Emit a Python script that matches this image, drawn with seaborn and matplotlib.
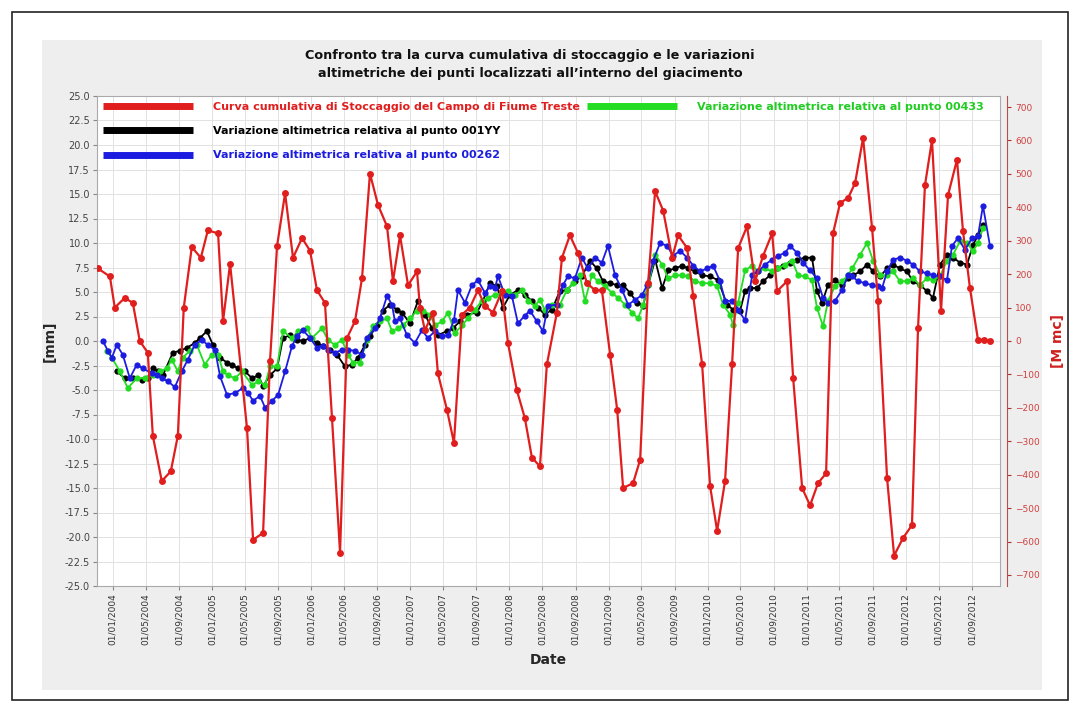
import numpy as np
import pandas as pd
import matplotlib
matplotlib.use("Agg")
import matplotlib.pyplot as plt
import matplotlib.dates as mdates
import matplotlib.ticker as mticker
from matplotlib.lines import Line2D
from matplotlib.patches import Rectangle
import seaborn as sns

# ---------------- data (dates as decimal years) ----------------
red_years = [2003.849, 2003.970, 2004.020, 2004.121, 2004.202, 2004.272, 2004.353, 2004.404, 2004.494, 2004.585,
             2004.656, 2004.716, 2004.797, 2004.888, 2004.959, 2005.060, 2005.110, 2005.181, 2005.352, 2005.413,
             2005.514, 2005.584, 2005.655, 2005.736, 2005.816, 2005.907, 2005.988, 2006.058, 2006.139, 2006.210,
             2006.291, 2006.361, 2006.442, 2006.513, 2006.593, 2006.674, 2006.765, 2006.825, 2006.896, 2006.977,
             2007.068, 2007.098, 2007.148, 2007.229, 2007.279, 2007.370, 2007.441, 2007.522, 2007.602, 2007.683,
             2007.754, 2007.834, 2007.925, 2007.986, 2008.076, 2008.157, 2008.228, 2008.309, 2008.379, 2008.480,
             2008.531, 2008.611, 2008.692, 2008.783, 2008.864, 2008.934, 2009.015, 2009.086, 2009.146, 2009.247,
             2009.318, 2009.398, 2009.469, 2009.550, 2009.641, 2009.701, 2009.792, 2009.853, 2009.943, 2010.024,
             2010.095, 2010.175, 2010.246, 2010.307, 2010.397, 2010.478, 2010.559, 2010.650, 2010.700, 2010.801,
             2010.862, 2010.953, 2011.033, 2011.114, 2011.195, 2011.265, 2011.336, 2011.417, 2011.487, 2011.568,
             2011.659, 2011.719, 2011.810, 2011.881, 2011.972, 2012.062, 2012.123, 2012.193, 2012.264, 2012.355,
             2012.426, 2012.516, 2012.577, 2012.647, 2012.728, 2012.789, 2012.849]
red_mmc = [217, 193, 100, 129, 114, 0, -35, -284, -419, -390,
           -284, 100, 281, 249, 331, 322, 59, 231, -261, -595,
           -574, -59, 284, 442, 249, 308, 270, 152, 114, -231,
           -633, 9, 59, 188, 501, 407, 343, 179, 316, 167,
           208, 100, 32, 85, -97, -205, -305, 79, 100, 152,
           105, 85, 149, -6, -147, -231, -349, -375, -70, 85,
           249, 316, 264, 173, 152, 152, -41, -205, -440, -425,
           -355, 173, 448, 390, 249, 316, 278, 135, -70, -434,
           -568, -419, -70, 278, 343, 179, 255, 322, 149, 179,
           -111, -440, -492, -425, -396, 322, 413, 428, 472, 607,
           337, 120, -410, -642, -589, -551, 38, 466, 601, 91,
           437, 542, 328, 158, 3, 3, 0]

blue_years = [2003.899, 2003.950, 2003.990, 2004.040, 2004.101, 2004.172, 2004.242, 2004.303, 2004.394, 2004.444,
              2004.494, 2004.555, 2004.626, 2004.696, 2004.757, 2004.827, 2004.898, 2004.959, 2005.029, 2005.080,
              2005.150, 2005.231, 2005.312, 2005.362, 2005.413, 2005.483, 2005.534, 2005.604, 2005.665, 2005.736,
              2005.806, 2005.857, 2005.917, 2005.988, 2006.058, 2006.119, 2006.169, 2006.240, 2006.311, 2006.371,
              2006.442, 2006.513, 2006.563, 2006.644, 2006.694, 2006.765, 2006.815, 2006.845, 2006.896, 2006.966,
              2007.047, 2007.118, 2007.178, 2007.249, 2007.320, 2007.380, 2007.441, 2007.481, 2007.552, 2007.622,
              2007.683, 2007.754, 2007.804, 2007.854, 2007.885, 2007.955, 2008.026, 2008.087, 2008.157, 2008.208,
              2008.278, 2008.339, 2008.389, 2008.480, 2008.541, 2008.591, 2008.662, 2008.732, 2008.793, 2008.864,
              2008.934, 2008.995, 2009.065, 2009.136, 2009.197, 2009.267, 2009.338, 2009.388, 2009.449, 2009.519,
              2009.590, 2009.650, 2009.721, 2009.792, 2009.853, 2009.923, 2009.994, 2010.054, 2010.125, 2010.175,
              2010.246, 2010.307, 2010.377, 2010.448, 2010.508, 2010.579, 2010.650, 2010.710, 2010.781, 2010.831,
              2010.902, 2010.962, 2011.033, 2011.103, 2011.164, 2011.214, 2011.285, 2011.356, 2011.417, 2011.457,
              2011.517, 2011.588, 2011.659, 2011.719, 2011.760, 2011.810, 2011.870, 2011.941, 2012.011, 2012.072,
              2012.143, 2012.213, 2012.274, 2012.345, 2012.415, 2012.466, 2012.526, 2012.597, 2012.668, 2012.728,
              2012.778, 2012.849]
blue_mm = [0.0, -1.0, -1.7, -0.4, -1.4, -3.8, -2.4, -2.8, -3.3, -3.5,
           -3.8, -4.1, -4.7, -3.1, -1.9, -0.4, 0.1, -0.4, -0.9, -3.6,
           -5.5, -5.3, -4.8, -5.3, -6.1, -5.6, -6.8, -6.1, -5.5, -3.1,
           -0.5, 0.5, 1.1, 0.3, -0.7, -0.5, -0.9, -1.2, -0.9, -0.9,
           -1.0, -1.4, 0.3, 1.3, 2.3, 4.6, 3.7, 2.0, 2.3, 0.6,
           -0.2, 1.1, 0.3, 1.0, 0.5, 0.6, 2.1, 5.2, 3.9, 5.7,
           6.2, 4.9, 5.6, 5.4, 6.6, 4.7, 4.6, 1.8, 2.6, 3.1,
           2.0, 1.0, 3.6, 3.7, 5.7, 6.6, 6.4, 8.5, 7.4, 8.5,
           8.0, 9.7, 6.7, 5.2, 3.7, 4.2, 4.7, 5.7, 8.2, 10.0,
           9.7, 8.7, 9.2, 8.5, 7.7, 7.1, 7.4, 7.7, 6.1, 4.1,
           4.1, 3.2, 2.1, 6.7, 7.1, 7.8, 8.3, 8.7, 9.0, 9.7,
           9.0, 8.0, 7.2, 6.4, 4.4, 3.9, 4.1, 5.2, 6.7, 6.6,
           6.1, 5.9, 5.7, 5.6, 5.4, 7.1, 8.3, 8.5, 8.2, 7.8,
           7.1, 6.9, 6.7, 6.6, 6.2, 9.7, 10.5, 9.3, 10.5, 10.7,
           13.8, 9.7]

green_years = [2003.939, 2003.990, 2004.071, 2004.151, 2004.242, 2004.323, 2004.404, 2004.474, 2004.545, 2004.595,
               2004.656, 2004.706, 2004.777, 2004.848, 2004.928, 2004.999, 2005.060, 2005.110, 2005.160, 2005.231,
               2005.302, 2005.403, 2005.463, 2005.534, 2005.584, 2005.655, 2005.715, 2005.806, 2005.867, 2005.958,
               2006.008, 2006.109, 2006.169, 2006.240, 2006.311, 2006.371, 2006.422, 2006.492, 2006.563, 2006.623,
               2006.694, 2006.765, 2006.815, 2006.876, 2006.926, 2006.997, 2007.068, 2007.128, 2007.199, 2007.249,
               2007.320, 2007.380, 2007.451, 2007.522, 2007.582, 2007.653, 2007.723, 2007.784, 2007.854, 2007.925,
               2007.986, 2008.056, 2008.127, 2008.188, 2008.258, 2008.309, 2008.359, 2008.430, 2008.510, 2008.581,
               2008.642, 2008.712, 2008.763, 2008.833, 2008.894, 2008.964, 2009.035, 2009.096, 2009.166, 2009.237,
               2009.297, 2009.348, 2009.398, 2009.469, 2009.540, 2009.600, 2009.671, 2009.742, 2009.802, 2009.873,
               2009.943, 2010.024, 2010.095, 2010.155, 2010.226, 2010.256, 2010.307, 2010.377, 2010.448, 2010.508,
               2010.579, 2010.650, 2010.710, 2010.781, 2010.851, 2010.912, 2010.982, 2011.053, 2011.103, 2011.164,
               2011.214, 2011.285, 2011.356, 2011.417, 2011.457, 2011.538, 2011.608, 2011.669, 2011.740, 2011.810,
               2011.870, 2011.941, 2012.011, 2012.072, 2012.143, 2012.213, 2012.274, 2012.345, 2012.415, 2012.476,
               2012.547, 2012.617, 2012.678, 2012.728, 2012.778]
green_mm = [-1.0, -1.7, -3.1, -4.8, -3.8, -3.8, -3.5, -3.1, -2.8, -1.9,
            -3.1, -1.7, -1.0, -0.4, -2.4, -1.4, -1.4, -3.1, -3.5, -3.8,
            -3.1, -4.5, -4.1, -4.5, -2.6, -2.6, 1.0, 0.3, 1.0, 1.3,
            0.3, 1.3, 0.1, -0.4, 0.1, -1.4, -2.2, -2.2, 0.1, 1.5,
            2.0, 2.3, 1.0, 1.3, 1.6, 2.3, 3.1, 3.1, 2.7, 1.6,
            2.0, 2.9, 0.8, 1.6, 2.3, 3.2, 4.1, 4.4, 4.7, 4.9,
            5.1, 4.7, 5.2, 4.1, 3.6, 4.2, 3.2, 3.7, 3.7, 5.2,
            5.9, 6.7, 4.1, 6.7, 6.1, 5.6, 4.9, 4.4, 3.7, 2.9,
            2.3, 3.7, 5.7, 8.8, 7.8, 6.4, 6.7, 6.7, 6.6, 6.1,
            5.9, 5.9, 5.6, 3.7, 2.7, 1.6, 3.9, 7.2, 7.7, 7.1,
            7.4, 7.1, 7.4, 7.8, 8.2, 6.7, 6.6, 6.2, 3.4, 1.5,
            4.1, 5.6, 6.1, 6.7, 7.4, 8.8, 10.0, 8.2, 6.7, 6.7,
            7.1, 6.1, 6.1, 6.4, 5.7, 6.4, 6.2, 6.6, 8.2, 8.8,
            10.2, 10.0, 9.2, 10.0, 11.5]

black_years = [2004.040, 2004.121, 2004.202, 2004.293, 2004.353, 2004.404, 2004.454, 2004.505, 2004.605, 2004.676,
               2004.747, 2004.827, 2004.878, 2004.949, 2005.009, 2005.080, 2005.150, 2005.201, 2005.261, 2005.332,
               2005.403, 2005.463, 2005.514, 2005.584, 2005.655, 2005.715, 2005.786, 2005.857, 2005.917, 2005.988,
               2006.058, 2006.119, 2006.190, 2006.260, 2006.341, 2006.412, 2006.472, 2006.543, 2006.593, 2006.664,
               2006.724, 2006.795, 2006.866, 2006.916, 2006.997, 2007.078, 2007.148, 2007.219, 2007.279, 2007.370,
               2007.431, 2007.501, 2007.572, 2007.673, 2007.733, 2007.804, 2007.875, 2007.935, 2008.006, 2008.087,
               2008.157, 2008.228, 2008.288, 2008.359, 2008.430, 2008.510, 2008.581, 2008.662, 2008.732, 2008.813,
               2008.884, 2008.944, 2009.015, 2009.086, 2009.146, 2009.217, 2009.287, 2009.348, 2009.398, 2009.469,
               2009.540, 2009.600, 2009.671, 2009.742, 2009.802, 2009.873, 2009.943, 2010.024, 2010.105, 2010.196,
               2010.256, 2010.327, 2010.377, 2010.428, 2010.498, 2010.559, 2010.629, 2010.700, 2010.760, 2010.831,
               2010.902, 2010.982, 2011.053, 2011.103, 2011.154, 2011.214, 2011.285, 2011.356, 2011.417, 2011.467,
               2011.538, 2011.608, 2011.669, 2011.740, 2011.810, 2011.870, 2011.941, 2012.011, 2012.072, 2012.143,
               2012.213, 2012.274, 2012.345, 2012.415, 2012.476, 2012.547, 2012.617, 2012.678, 2012.728, 2012.778]
black_mm = [-3.1, -3.8, -3.8, -4.0, -3.8, -2.8, -3.1, -3.5, -1.2, -1.0,
            -0.7, -0.2, 0.3, 1.0, -0.4, -1.7, -2.2, -2.4, -2.8, -3.1,
            -3.8, -3.5, -4.6, -3.5, -2.8, 0.3, 0.6, 0.1, 0.0, 0.3,
            -0.2, -0.5, -0.9, -1.4, -2.6, -2.4, -1.7, -0.4, 0.5, 1.6,
            3.1, 3.7, 3.2, 2.9, 1.8, 4.1, 2.7, 1.3, 0.6, 1.0,
            1.3, 2.0, 2.7, 2.9, 4.1, 5.9, 5.6, 3.4, 4.7, 5.2,
            4.7, 4.1, 3.4, 2.7, 3.2, 5.1, 5.2, 6.1, 6.6, 8.2,
            7.4, 6.1, 5.9, 5.7, 5.7, 4.9, 3.9, 3.6, 5.7, 8.3,
            5.4, 7.2, 7.4, 7.7, 7.4, 7.1, 6.7, 6.6, 6.2, 3.7,
            3.2, 3.1, 5.1, 5.4, 5.4, 6.1, 6.7, 7.4, 7.7, 8.0,
            8.3, 8.5, 8.5, 5.1, 3.9, 5.7, 6.2, 5.7, 6.4, 6.7,
            7.1, 7.8, 7.1, 6.6, 7.4, 7.8, 7.4, 7.1, 6.1, 5.7,
            5.1, 4.4, 7.8, 8.8, 8.5, 8.0, 7.8, 9.8, 10.8, 11.8]

labels = ["Curva cumulativa di Stoccaggio del Campo di Fiume Treste",
          "Variazione altimetrica relativa al punto 001YY",
          "Variazione altimetrica relativa al punto 00262",
          "Variazione altimetrica relativa al punto 00433"]

title = ("Confronto tra la curva cumulativa di stoccaggio e le variazioni\n"
         "altimetriche dei punti localizzati all\u2019interno del giacimento")

# ---------------- helpers ----------------
def to_dates(years):
    out = []
    for y in years:
        yi = int(y)
        out.append(pd.Timestamp(yi, 1, 1) + pd.Timedelta(days=(y - yi) * 365.25))
    return out

def frame(years, vals):
    n = min(len(years), len(vals))
    return pd.DataFrame({"date": to_dates(years[:n]), "val": vals[:n]})

RED = "#e01e1e"
BLACK = "#000000"
BLUE = "#1c1ce0"
GREEN = "#22dd22"

sns.set_style("whitegrid")
plt.rcParams["font.family"] = ["DejaVu Sans"]

fig = plt.figure(figsize=(10.8, 7.07), dpi=100)
fig.patch.set_facecolor("white")
# outer frame and grey panel (behind the axes)
fig.add_artist(Rectangle((12 / 1080, 1 - 700 / 707), (1068 - 12) / 1080, (700 - 12) / 707,
                         transform=fig.transFigure, facecolor="white", edgecolor="#222222", lw=1.2,
                         zorder=-20))
fig.add_artist(Rectangle((42 / 1080, 1 - 690 / 707), (1042 - 42) / 1080, (690 - 40) / 707,
                         transform=fig.transFigure, facecolor="#eeeeee", edgecolor="none", zorder=-10))

ax = fig.add_axes([97 / 1080, 1 - 586 / 707, (1000 - 97) / 1080, (586 - 96) / 707])
ax.set_facecolor("white")

line_kw = dict(marker="o", markersize=4.5, markeredgewidth=0, linewidth=1.3, legend=False)
sns.lineplot(data=frame(black_years, black_mm), x="date", y="val", ax=ax, color=BLACK, **line_kw)
sns.lineplot(data=frame(green_years, green_mm), x="date", y="val", ax=ax, color=GREEN, **line_kw)
sns.lineplot(data=frame(blue_years, blue_mm), x="date", y="val", ax=ax, color=BLUE, **line_kw)

ax2 = ax.twinx()
sns.lineplot(data=frame(red_years, red_mmc), x="date", y="val", ax=ax2, color=RED,
             marker="o", markersize=5, markeredgewidth=0, linewidth=1.6, legend=False)
ax2.grid(False)

# axes limits & ticks
ax.set_xlim(to_dates([2003.84])[0], to_dates([2012.95])[0])
ax.set_ylim(-25, 25)
ax2.set_ylim(-733, 733)
ax.set_yticks(np.arange(-25, 25.01, 2.5))
ax.yaxis.set_major_formatter(mticker.FormatStrFormatter("%.1f"))
ax2.set_yticks(np.arange(-700, 701, 100))

ax.xaxis.set_major_locator(mdates.MonthLocator(bymonth=[1, 5, 9], bymonthday=1))
ax.xaxis.set_major_formatter(mdates.DateFormatter("%d/%m/%Y"))
for t in ax.get_xticklabels():
    t.set_rotation(90)

ax.grid(True, color="#e2e2e2", linewidth=0.7)
ax.tick_params(axis="x", bottom=True, length=3, color="#888888", labelsize=6.5, labelcolor="#333333", pad=2)
ax.tick_params(axis="y", left=True, length=3, color="#888888", labelsize=7, labelcolor="#444444", pad=2)
ax2.tick_params(axis="y", right=True, length=3, color="#b03030", labelsize=6.5, labelcolor="#d04040", pad=3)

for s in ax.spines.values():
    s.set_color("#aaaaaa")
    s.set_linewidth(0.8)
for name, s in ax2.spines.items():
    s.set_visible(name == "right")
ax2.spines["right"].set_color("#b05050")
ax2.spines["right"].set_position(("outward", 5))

ax.set_xlabel("Date", fontsize=10, fontweight="bold", labelpad=6)
ax.set_ylabel("[mm]", fontsize=10, fontweight="bold", labelpad=6)
ax2.set_ylabel("[M mc]", fontsize=10, fontweight="bold", color="#d02020", labelpad=8)

fig.text(530 / 1080, 1 - 65 / 707, title, ha="center", va="center", fontsize=9.2, fontweight="bold",
         linespacing=1.5, color="#111111")

# legend: first column red/black/blue, second column green
blank = Line2D([], [], alpha=0)
handles = [Line2D([], [], color=RED, lw=5, solid_capstyle="butt"),
           Line2D([], [], color=BLACK, lw=5, solid_capstyle="butt"),
           Line2D([], [], color=BLUE, lw=5, solid_capstyle="butt"),
           Line2D([], [], color=GREEN, lw=5, solid_capstyle="butt"), blank, blank]
leg_labels = [labels[0], labels[1], labels[2], labels[3], "", ""]
leg = ax2.legend(handles, leg_labels, ncol=2, loc="upper left", bbox_to_anchor=(0.0, 1.0),
                 frameon=False, prop={"size": 8, "weight": "bold"}, handlelength=8.1,
                 handletextpad=1.8, columnspacing=0.7, labelspacing=1.3, borderaxespad=0.2,
                 borderpad=0.3)
for txt, c in zip(leg.get_texts(), [RED, BLACK, BLUE, "#22cc22", "white", "white"]):
    txt.set_color(c)

fig.savefig("out.png", dpi=100, facecolor=fig.get_facecolor())
